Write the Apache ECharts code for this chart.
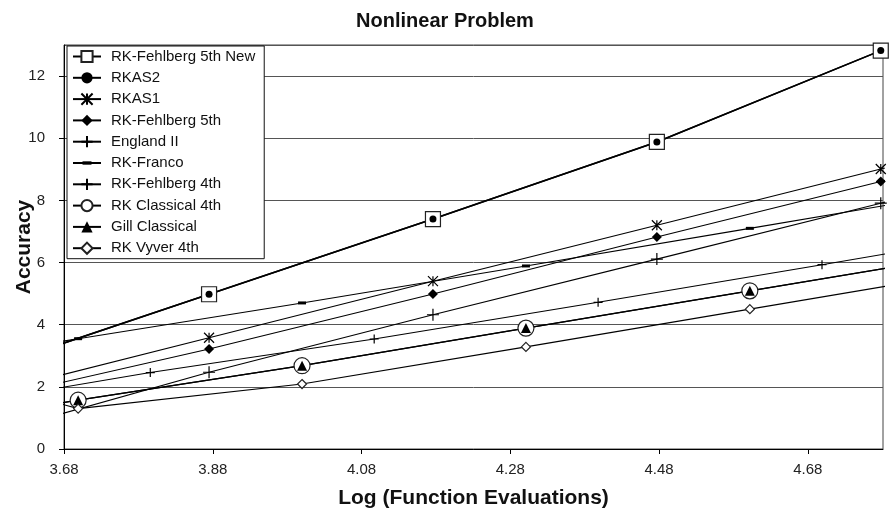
<!DOCTYPE html>
<html>
<head>
<meta charset="utf-8">
<script src="https://cdn.jsdelivr.net/npm/echarts@6/dist/echarts.min.js"></script>
<style>
  html, body { margin: 0; padding: 0; background: #fff; }
  #chart { width: 890px; height: 516px; }
</style>
</head>
<body>
<div id="chart"></div>
<script>
// ---- data ----
const seriesNames = [
  'RK-Fehlberg 5th New', 'RKAS2', 'RKAS1', 'RK-Fehlberg 5th', 'England II',
  'RK-Franco', 'RK-Fehlberg 4th', 'RK Classical 4th', 'Gill Classical', 'RK Vyver 4th'
];
// log10 of function evaluations
const x6 = [3.875, 4.176, 4.477, 4.778];
const x5 = [3.796, 4.097, 4.398, 4.699];
const x4 = [3.699, 4.000, 4.301, 4.602];
// where the drawn lines run out just past the plot edges
const trendX = [3.67, 4.79];

const fehlberg5New = [4.98, 7.40, 9.88, 12.82];
const rkas2        = [4.98, 7.40, 9.88, 12.82];
const rkas1        = [3.58, 5.40, 7.20, 9.01];
const fehlberg5    = [3.22, 4.99, 6.82, 8.61];
const england2     = [2.47, 4.32, 6.11, 7.91];
const franco       = [3.55, 4.70, 5.89, 7.10];
const fehlberg4    = [2.46, 3.54, 4.72, 5.93];
const classical4   = [1.57, 2.68, 3.89, 5.09];
const gill         = [1.57, 2.68, 3.89, 5.09];
const vyver4       = [1.30, 2.09, 3.285, 4.50];

// accuracy where each line leaves the plot (left, right)
const endsNew      = [3.33, 12.94];
const endsRkas2    = [3.33, 12.94];
const endsRkas1    = [2.34, 9.08];
const endsF5       = [2.10, 8.68];
const endsEngland  = [1.09, 7.98];
const endsFranco   = [3.44, 7.86];
const endsF4       = [1.95, 6.30];
const endsClassic  = [1.46, 5.84];
const endsGill     = [1.46, 5.84];
const endsVyver    = [1.49, 5.26];

const xTicksMin = 3.68, xTicksStep = 0.2, xMax = 4.781;
const yMin = 0, yMax = 13, yStep = 2;

// ---- styling ----
const FONT = '"Liberation Sans", Arial, Helvetica, sans-serif';
const ASTERISK = 'path://M0,0L10,10M10,0L0,10M5,0L5,10';
const PLUS = 'path://M5,0L5,10M0,5L10,5';
const DASH = 'path://M0,0M10,10M1,3.5L9,3.5L9,6.5L1,6.5Z';

function build(name, xs, ys, ends, symbol, size, itemStyle, width) {
  const data = [{ value: [trendX[0], ends[0]], symbol: 'none' }];
  xs.forEach((x, i) => data.push([x, ys[i]]));
  data.push({ value: [trendX[1], ends[1]], symbol: 'none' });
  return {
    name, type: 'line', data, symbol, symbolSize: size,
    clip: false, showAllSymbol: true,
    lineStyle: { color: '#000', width: width || 1.1 },
    itemStyle: itemStyle,
    emphasis: { disabled: true },
    z: 3
  };
}

const solid = { color: '#000', borderColor: '#000', borderWidth: 0 };
const hollow = { color: '#fff', borderColor: '#222', borderWidth: 1.2 };
const stroke = { color: 'rgba(0,0,0,0)', borderColor: '#000', borderWidth: 1.2 };

const series = [
  build(seriesNames[0], x6, fehlberg5New, endsNew, 'rect', 15, hollow, 1.5),
  build(seriesNames[1], x6, rkas2, endsRkas2, 'circle', 7, solid, 1.5),
  build(seriesNames[2], x6, rkas1, endsRkas1, ASTERISK, 10, stroke),
  build(seriesNames[3], x6, fehlberg5, endsF5, 'diamond', 10, solid),
  build(seriesNames[4], x6, england2, endsEngland, PLUS, 12, stroke),
  build(seriesNames[5], x4, franco, endsFranco, DASH, 10, solid),
  build(seriesNames[6], x5, fehlberg4, endsF4, PLUS, 9, stroke),
  build(seriesNames[7], x4, classical4, endsClassic, 'circle', 16, hollow, 1.3),
  build(seriesNames[8], x4, gill, endsGill, 'triangle', 10, solid, 1.3),
  build(seriesNames[9], x4, vyver4, endsVyver, 'diamond', 9, hollow)
];

const chart = echarts.init(document.getElementById('chart'), null, { renderer: 'canvas' });
chart.setOption({
  animation: false,
  backgroundColor: '#fff',
  textStyle: { fontFamily: FONT },
  title: {
    text: 'Nonlinear Problem', left: 'center', top: 6,
    textStyle: { fontFamily: FONT, fontSize: 20, fontWeight: 'bold', color: '#111' }
  },
  grid: {
    left: 64, right: 7, top: 45, bottom: 67,
    containLabel: false, outerBoundsMode: 'none',
    show: true, borderColor: '#444', borderWidth: 1, backgroundColor: '#fff'
  },
  legend: {
    orient: 'vertical', left: 67, top: 46,
    itemWidth: 28, itemHeight: 14, itemGap: 6.3,
    padding: [3, 9, 3, 5],
    backgroundColor: '#fff', borderColor: '#111', borderWidth: 1, borderRadius: 0,
    selectedMode: false, z: 10,
    textStyle: { fontFamily: FONT, fontSize: 15, color: '#111', padding: [0, 0, 0, 5] },
    data: seriesNames
  },
  xAxis: {
    type: 'value', min: xTicksMin, max: xMax, interval: xTicksStep,
    name: 'Log (Function Evaluations)', nameLocation: 'middle', nameGap: 39,
    nameMoveOverlap: false,
    nameTextStyle: { fontFamily: FONT, fontSize: 21, fontWeight: 'bold', color: '#111' },
    axisLine: { show: true, lineStyle: { color: '#000', width: 1 } },
    axisTick: { show: true, inside: false, length: 5, lineStyle: { color: '#000' } },
    axisLabel: {
      fontFamily: FONT, fontSize: 15, color: '#222', margin: 13, showMaxLabel: false,
      formatter: v => v.toFixed(2)
    },
    splitLine: { show: false }
  },
  yAxis: {
    type: 'value', min: yMin, max: yMax, interval: yStep,
    name: 'Accuracy', nameLocation: 'middle', nameGap: 29, nameRotate: 90,
    nameMoveOverlap: false,
    nameTextStyle: { fontFamily: FONT, fontSize: 21, fontWeight: 'bold', color: '#111' },
    axisLine: { show: true, lineStyle: { color: '#000', width: 1 } },
    axisTick: { show: true, inside: false, length: 5, lineStyle: { color: '#000' } },
    axisLabel: { fontFamily: FONT, fontSize: 15, color: '#222', margin: 19, showMaxLabel: false },
    splitLine: { show: true, lineStyle: { color: '#555', width: 1 } }
  },
  series
});
</script>
</body>
</html>
